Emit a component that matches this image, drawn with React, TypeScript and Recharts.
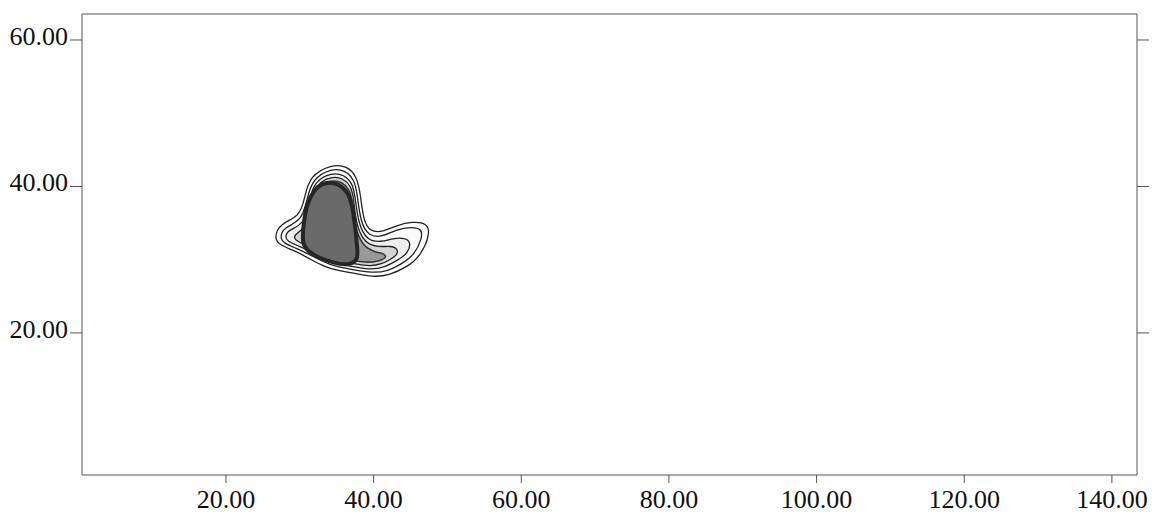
import React from 'react';
import { ScatterChart, Scatter, XAxis, YAxis } from 'recharts';

// axis ticks
const xTicks = [20, 40, 60, 80, 100, 120, 140];
const yTicks = [20, 40, 60];

// contour rings, outermost first (x, y in data units)
const ring1 = [
  { x: 34.3, y: 43.0 }, { x: 36.4, y: 42.8 }, { x: 37.7, y: 41.4 }, { x: 38.2, y: 39.1 },
  { x: 38.6, y: 35.4 }, { x: 39.5, y: 33.8 }, { x: 41.3, y: 33.8 }, { x: 43.1, y: 34.7 },
  { x: 45.3, y: 35.2 }, { x: 47.2, y: 35.0 }, { x: 47.7, y: 33.6 }, { x: 46.3, y: 30.4 },
  { x: 44.5, y: 29.0 }, { x: 42.2, y: 27.9 }, { x: 39.9, y: 27.6 }, { x: 37.2, y: 28.2 },
  { x: 33.6, y: 28.8 }, { x: 30.9, y: 30.4 }, { x: 29.1, y: 31.3 }, { x: 27.3, y: 32.0 },
  { x: 26.5, y: 32.9 }, { x: 27.3, y: 35.0 }, { x: 30.0, y: 35.8 }, { x: 30.7, y: 38.6 },
  { x: 31.3, y: 41.4 },
];
const ring2 = [
  { x: 34.3, y: 42.5 }, { x: 36.2, y: 42.2 }, { x: 37.4, y: 40.9 }, { x: 37.8, y: 38.9 },
  { x: 38.2, y: 35.2 }, { x: 39.3, y: 33.2 }, { x: 41.2, y: 33.1 }, { x: 43.0, y: 34.1 },
  { x: 45.2, y: 34.5 }, { x: 46.5, y: 34.2 }, { x: 46.6, y: 33.0 }, { x: 45.5, y: 30.6 },
  { x: 43.9, y: 29.5 }, { x: 41.9, y: 28.4 }, { x: 39.8, y: 28.2 }, { x: 37.3, y: 28.6 },
  { x: 33.8, y: 29.3 }, { x: 31.2, y: 30.8 }, { x: 29.4, y: 31.6 }, { x: 27.8, y: 32.3 },
  { x: 27.3, y: 33.0 }, { x: 27.8, y: 34.4 }, { x: 30.3, y: 35.3 }, { x: 31.0, y: 38.4 },
  { x: 31.7, y: 41.0 },
];
const ring3 = [
  { x: 34.3, y: 41.9 }, { x: 36.0, y: 41.6 }, { x: 37.1, y: 40.5 }, { x: 37.5, y: 38.7 },
  { x: 37.9, y: 35.0 }, { x: 39.1, y: 32.6 }, { x: 41.0, y: 32.4 }, { x: 42.6, y: 32.9 },
  { x: 44.2, y: 33.0 }, { x: 45.1, y: 32.4 }, { x: 44.6, y: 30.8 }, { x: 43.2, y: 29.9 },
  { x: 41.6, y: 29.0 }, { x: 39.7, y: 28.6 }, { x: 37.4, y: 29.0 }, { x: 34.0, y: 29.7 },
  { x: 31.6, y: 31.1 }, { x: 29.8, y: 31.9 }, { x: 28.3, y: 32.5 }, { x: 28.0, y: 33.2 },
  { x: 28.5, y: 34.1 }, { x: 30.6, y: 34.8 }, { x: 31.3, y: 38.2 }, { x: 32.0, y: 40.7 },
];
const ring4 = [
  { x: 34.3, y: 41.4 }, { x: 35.9, y: 41.1 }, { x: 36.9, y: 40.1 }, { x: 37.3, y: 38.5 },
  { x: 37.6, y: 34.8 }, { x: 38.8, y: 32.2 }, { x: 40.7, y: 31.7 }, { x: 42.3, y: 31.9 },
  { x: 43.3, y: 31.5 }, { x: 43.2, y: 30.6 }, { x: 42.2, y: 30.0 }, { x: 41.1, y: 29.4 },
  { x: 39.6, y: 29.1 }, { x: 37.5, y: 29.4 }, { x: 34.2, y: 30.1 }, { x: 32.0, y: 31.4 },
  { x: 30.3, y: 32.2 }, { x: 29.2, y: 32.8 }, { x: 29.3, y: 33.5 }, { x: 30.9, y: 34.3 },
  { x: 31.6, y: 38.0 }, { x: 32.3, y: 40.4 },
];
const ring5 = [
  { x: 34.3, y: 40.9 }, { x: 35.8, y: 40.6 }, { x: 36.7, y: 39.6 }, { x: 37.1, y: 38.2 },
  { x: 37.4, y: 34.6 }, { x: 38.5, y: 31.8 }, { x: 40.3, y: 31.0 }, { x: 41.6, y: 30.8 },
  { x: 41.7, y: 30.2 }, { x: 40.6, y: 29.8 }, { x: 39.4, y: 29.6 }, { x: 37.5, y: 29.8 },
  { x: 34.4, y: 30.5 }, { x: 32.3, y: 31.7 }, { x: 30.8, y: 32.5 }, { x: 30.3, y: 33.1 },
  { x: 31.2, y: 34.0 }, { x: 31.8, y: 37.8 }, { x: 32.5, y: 40.1 },
];
const core = [
  { x: 34.1, y: 40.6 }, { x: 35.3, y: 40.3 }, { x: 36.4, y: 39.4 }, { x: 37.1, y: 37.6 },
  { x: 37.5, y: 34.5 }, { x: 37.8, y: 31.5 }, { x: 37.9, y: 29.9 }, { x: 36.5, y: 29.2 },
  { x: 34.5, y: 29.6 }, { x: 32.7, y: 30.2 }, { x: 31.0, y: 31.2 }, { x: 30.3, y: 32.3 },
  { x: 30.5, y: 34.8 }, { x: 30.9, y: 37.5 }, { x: 31.9, y: 39.5 }, { x: 33.0, y: 40.4 },
];

const font = '"Liberation Serif", "Times New Roman", serif';
const fmt = (v: number) => v.toFixed(2);

const LeftTick = ({ x, y, payload }: any) => (
  <text x={x} y={y} dy={5} textAnchor="end" fontFamily={font} fontSize={26} fill="#111">
    {fmt(payload.value)}
  </text>
);

const BottomTick = ({ x, y, payload }: any) => (
  <text x={x} y={y} dy={23} textAnchor="middle" fontFamily={font} fontSize={26} fill="#111">
    {fmt(payload.value)}
  </text>
);

const NoTick = () => <g />;
const NoDot = () => <g />;

const rings = [
  { data: ring1, fill: '#ffffff', stroke: '#222222', w: 1.3 },
  { data: ring2, fill: '#fafafa', stroke: '#222222', w: 1.3 },
  { data: ring3, fill: '#eeeeee', stroke: '#222222', w: 1.3 },
  { data: ring4, fill: '#d4d4d4', stroke: '#222222', w: 1.3 },
  { data: ring5, fill: '#999999', stroke: '#3a3a3a', w: 1.6 },
  { data: core, fill: '#6a6a6a', stroke: '#262626', w: 4 },
];

export default function App() {
  const axisStroke = '#555';
  return (
    <div style={{ position: 'absolute', left: 0, top: 0, background: '#fff' }}>
      <ScatterChart width={1163} height={519} margin={{ top: 0, right: 0, bottom: 0, left: 0 }}>
        <XAxis
          xAxisId="bottom"
          dataKey="x"
          type="number"
          orientation="bottom"
          domain={[0.5, 143.4]}
          ticks={xTicks}
          height={44}
          tickSize={8}
          tickMargin={2}
          stroke={axisStroke}
          tick={BottomTick}
          allowDataOverflow
        />
        <XAxis
          xAxisId="top"
          type="number"
          orientation="top"
          domain={[0.5, 143.4]}
          ticks={xTicks}
          height={14}
          tickSize={12}
          stroke={axisStroke}
          tick={NoTick}
          allowDataOverflow
        />
        <YAxis
          yAxisId="left"
          dataKey="y"
          type="number"
          orientation="left"
          domain={[0.6, 63.55]}
          ticks={yTicks}
          width={82}
          tickSize={12}
          tickMargin={2}
          stroke={axisStroke}
          tick={LeftTick}
          allowDataOverflow
        />
        <YAxis
          yAxisId="right"
          type="number"
          orientation="right"
          domain={[0.6, 63.55]}
          ticks={yTicks}
          width={26}
          tickSize={12}
          stroke={axisStroke}
          tick={NoTick}
          allowDataOverflow
        />
        {rings.map((r, i) => (
          <Scatter
            key={i}
            xAxisId="bottom"
            yAxisId="left"
            data={r.data}
            shape={NoDot}
            line={{ stroke: r.stroke, strokeWidth: r.w, fill: r.fill }}
            lineJointType="basisClosed"
            legendType="none"
            isAnimationActive={false}
          />
        ))}
      </ScatterChart>
    </div>
  );
}
